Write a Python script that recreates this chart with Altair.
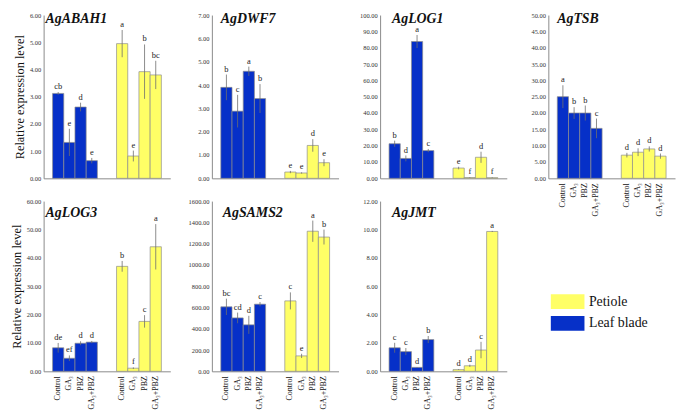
import altair as alt
import pandas as pd

genes = ["AgABAH1", "AgDWF7", "AgLOG1", "AgTSB", "AgLOG3", "AgSAMS2", "AgJMT"]
treatments = ["Control", "GA₃", "PBZ", "GA₃+PBZ"]
tissues = ["Leaf blade", "Petiole"]
legend_order = ["Petiole", "Leaf blade"]

# each list: 4 leaf-blade values then 4 petiole values
abah1_mean = [3.12, 1.32, 2.62, 0.65, 4.95, 0.82, 3.92, 3.80]
abah1_err = [0.05, 0.50, 0.16, 0.10, 0.50, 0.20, 1.00, 0.52]
abah1_sig = ["cb", "e", "d", "e", "a", "e", "b", "bc"]

dwf7_mean = [3.90, 2.88, 4.59, 3.42, 0.27, 0.23, 1.41, 0.67]
dwf7_err = [0.55, 0.70, 0.20, 0.62, 0.05, 0.03, 0.27, 0.15]
dwf7_sig = ["b", "c", "a", "b", "e", "e", "d", "e"]

log1_mean = [21.2, 12.2, 83.8, 17.0, 6.3, 0.5, 12.9, 0.4]
log1_err = [1.9, 1.8, 4.0, 1.0, 0.8, 0.2, 3.4, 0.2]
log1_sig = ["b", "d", "a", "c", "e", "f", "d", "f"]

tsb_mean = [25.0, 20.0, 20.0, 15.3, 7.1, 8.0, 9.0, 6.8]
tsb_err = [3.5, 1.8, 2.3, 3.0, 0.7, 1.2, 0.8, 0.8]
tsb_sig = ["a", "b", "b", "c", "d", "d", "d", "d"]

log3_mean = [8.3, 4.6, 9.9, 10.3, 37.0, 1.1, 17.6, 43.9]
log3_err = [1.7, 1.0, 0.7, 0.4, 1.9, 0.3, 2.2, 8.0]
log3_sig = ["de", "ef", "d", "d", "b", "f", "c", "a"]

sams2_mean = [606, 502, 437, 631, 662, 145, 1317, 1262]
sams2_err = [77, 50, 85, 20, 80, 20, 100, 70]
sams2_sig = ["bc", "cd", "d", "c", "c", "e", "a", "b"]

jmt_mean = [1.66, 1.39, 0.28, 2.24, 0.12, 0.39, 1.50, 9.86]
jmt_err = [0.35, 0.25, 0.02, 0.25, 0.03, 0.08, 0.58, 0.04]
jmt_sig = ["c", "c", "d", "b", "d", "d", "c", "a"]

y_max = [6, 7, 100, 50, 60, 1600, 12]
y_step = [1, 1, 10, 5, 10, 200, 2]

means = [abah1_mean, dwf7_mean, log1_mean, tsb_mean, log3_mean, sams2_mean, jmt_mean]
errs = [abah1_err, dwf7_err, log1_err, tsb_err, log3_err, sams2_err, jmt_err]
sigs = [abah1_sig, dwf7_sig, log1_sig, tsb_sig, log3_sig, sams2_sig, jmt_sig]

BLUE = "#0630C8"
YELLOW = "#FFFF66"
SERIF = "Liberation Serif"
title_dx = [2, 9, 12, 9, 2, 11, 12]
title_y = [8, 8, 8, 8, 16, 16, 16]
show_xlabels = [False, False, False, True, True, True, True]
show_ytitle = [True, False, False, False, True, False, False]
heights = [165, 165, 165, 165, 172, 172, 172]


def panel(i):
    rows = []
    for k in range(8):
        m = means[i][k]
        e = errs[i][k]
        rows.append({
            "tissue": tissues[k // 4],
            "treatment": treatments[k % 4],
            "mean": m,
            "lo": max(m - e, 0),
            "hi": m + e,
            "sig": sigs[i][k],
        })
    df = pd.DataFrame(rows)
    H = heights[i]
    ticks = [y_step[i] * j for j in range(int(round(y_max[i] / y_step[i])) + 1)]
    yscale = alt.Scale(domain=[0, y_max[i]], nice=False, zero=True)
    yaxis = alt.Axis(values=ticks, format=".2f", grid=False, tickSize=0,
                     labelOverlap=False, labelFlush=False,
                     labelFont=SERIF, labelFontSize=6.5, labelColor="#333333",
                     labelPadding=3, domainColor="#8a8a8a", domainWidth=1,
                     title="Relative expression level" if show_ytitle[i] else None,
                     titleFont=SERIF, titleFontSize=12.5, titleFontWeight="normal",
                     titleColor="#111111", titlePadding=3)
    base = alt.Chart(df).encode(
        x=alt.X("tissue:N", sort=tissues,
                scale=alt.Scale(paddingInner=0.3, paddingOuter=0.14),
                axis=alt.Axis(labels=False, ticks=False, title=None,
                              domainColor="#8a8a8a", domainWidth=1)),
        xOffset=alt.XOffset("treatment:N", sort=treatments,
                            scale=alt.Scale(paddingInner=0, paddingOuter=0)),
    )
    bars = base.mark_bar(stroke="#8c8c8c", strokeWidth=0.7).encode(
        y=alt.Y("mean:Q", scale=yscale, axis=yaxis),
        color=alt.Color("tissue:N",
                        scale=alt.Scale(domain=legend_order, range=[YELLOW, BLUE]),
                        legend=alt.Legend(
                            title=None, orient="none", legendX=521, legendY=281,
                            symbolType="M-2,-0.88L2,-0.88L2,0.88L-2,0.88Z",
                            symbolSize=289, symbolStrokeWidth=0,
                            symbolOpacity=1,
                            labelFont=SERIF, labelFontSize=14, labelColor="#111111",
                            labelOffset=13, rowPadding=6, padding=0)),
    )
    err = base.mark_rule(color="#6f6f6f", strokeWidth=0.8).encode(
        y=alt.Y("lo:Q", scale=yscale, axis=yaxis), y2="hi:Q")
    sig = base.mark_text(baseline="bottom", dy=-1, font=SERIF, fontSize=8.5,
                         color="#222222").encode(
        y=alt.Y("hi:Q", scale=yscale, axis=yaxis), text="sig:N")
    name = alt.Chart(pd.DataFrame({"gene": [genes[i]]})).mark_text(
        align="left", baseline="alphabetic", font=SERIF, fontStyle="italic",
        fontWeight="bold", fontSize=14, color="#111111").encode(
        text="gene:N", x=alt.value(title_dx[i]), y=alt.value(title_y[i]))
    layers = [bars, err, sig]
    if show_xlabels[i]:
        lab = base.mark_text(angle=270, align="right", baseline="middle", dx=-5,
                             font=SERIF, fontSize=8, color="#111111").encode(
            y=alt.Y(datum=0, scale=yscale, axis=yaxis), text="treatment:N")
        layers.append(lab)
    layers.append(name)
    return alt.layer(*layers).properties(width=128, height=H)


chart = alt.concat(*[panel(i) for i in range(7)], columns=4,
                   spacing={"row": 23, "column": 42}, bounds="flush").properties(
    padding={"left": 2, "top": 2, "right": 2, "bottom": 2}
).configure_view(stroke=None)

chart.save("out.html", embed_options={"renderer": "svg", "actions": False})
